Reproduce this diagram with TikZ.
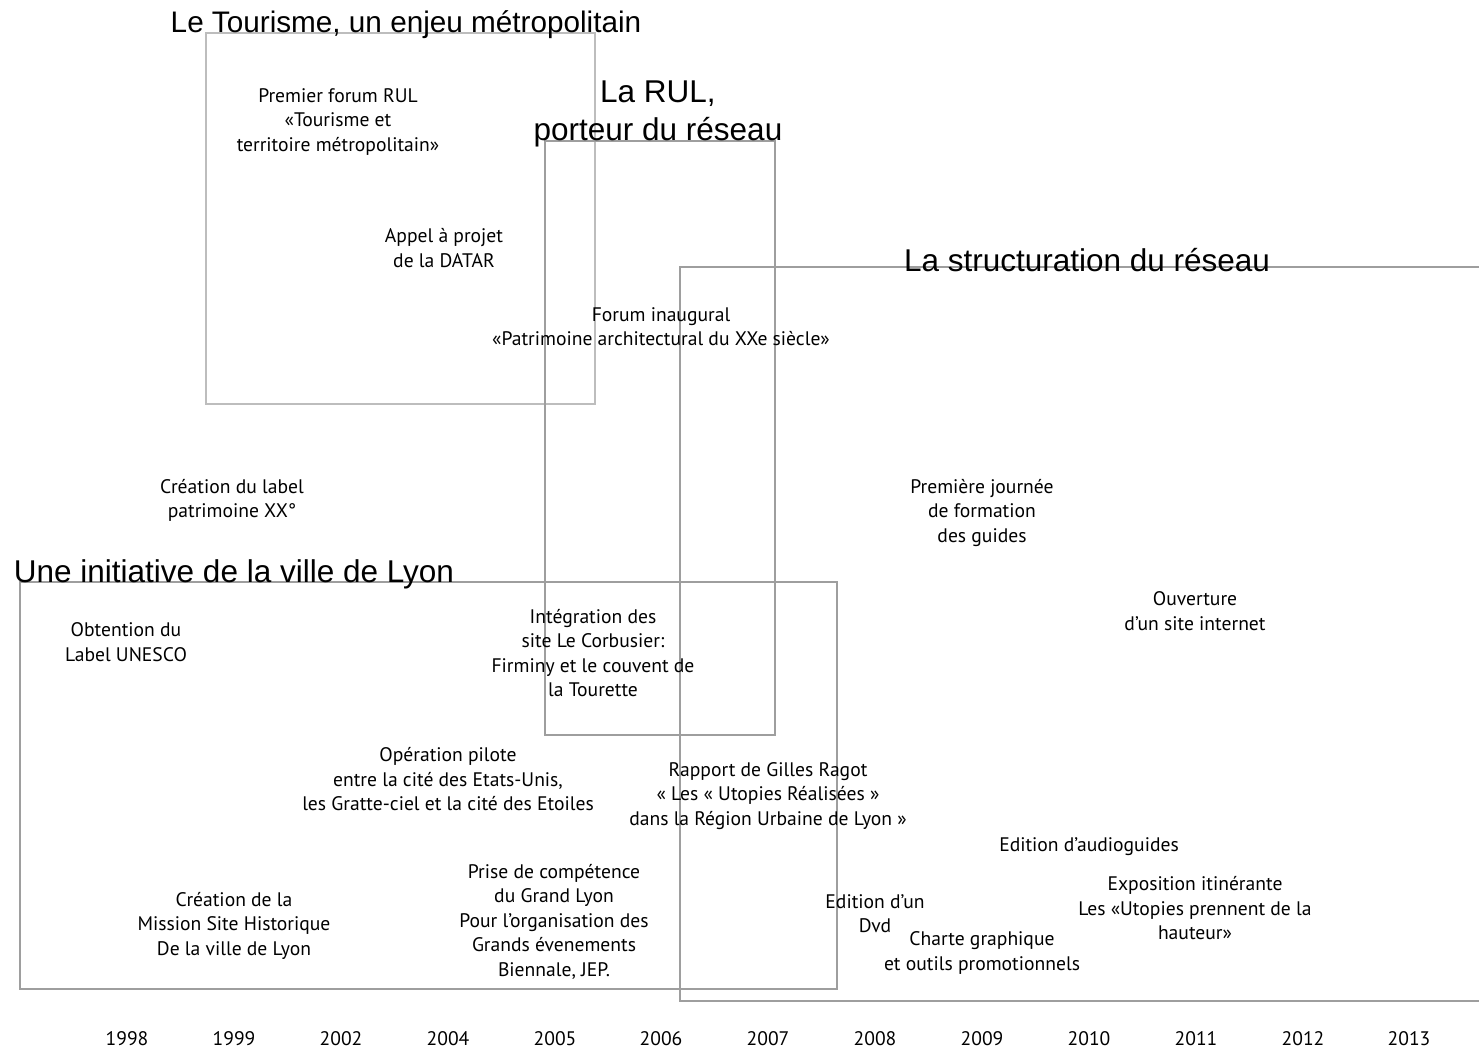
\documentclass[tikz,border=0pt]{standalone}
\usepackage{fontspec}
\setmainfont{PT Sans}
\newfontfamily\titlefont{Liberation Sans}
\begin{document}
\begin{tikzpicture}[x=1pt,y=-1pt,
  frame/.style={draw=black!38,line width=1.8pt},
  lightframe/.style={draw=black!26,line width=1.8pt},
  txt/.style={inner sep=0pt,align=center,yshift=-2pt,font=\fontsize{19.6}{24.5}\selectfont},
  ttl/.style={inner sep=0pt,align=center,yshift=-3pt,font=\titlefont\fontsize{31.5}{38}\selectfont},
  ttls/.style={ttl,font=\titlefont\fontsize{29.7}{36}\selectfont},
  yr/.style={inner sep=0pt,font=\fontsize{19.6}{22}\selectfont}]
\useasboundingbox[fill=white] (0,0) rectangle (1479,1050);
% boxes
\draw[lightframe] (206,33) rectangle (595,404);
\draw[frame] (545,141) rectangle (775,735);
\draw[frame] (1490,267) -- (680,267) -- (680,1001) -- (1490,1001);
\draw[frame] (20,582) rectangle (837,989);
% titles
\node[ttls] (t1) at (406,22) {Le Tourisme, un enjeu métropolitain};
\node[ttl] (t2) at (658,111) {La RUL,\\porteur du réseau};
\node[ttl] (t3) at (1087,257) {La structuration du réseau};
\node[ttl] (t4) at (234,571) {Une initiative de la ville de Lyon};
% events
\node[txt] (e1) at (338,120) {Premier forum RUL\\«Tourisme et\\territoire métropolitain»};
\node[txt] (e2) at (444,246) {Appel à projet\\de la DATAR};
\node[txt] (e3) at (661,324.5) {Forum inaugural\\«Patrimoine architectural du XXe siècle»};
\node[txt] (e4) at (232,498.5) {Création du label\\patrimoine XX°};
\node[txt] (e5) at (982,511) {Première journée\\de formation\\des guides};
\node[txt] (e6) at (1195,609) {Ouverture\\d’un site internet};
\node[txt] (e7) at (126,640) {Obtention du\\Label UNESCO};
\node[txt] (e8) at (593,651) {Intégration des\\site Le Corbusier:\\Firminy et le couvent de\\la Tourette};
\node[txt] (e9) at (448,777.5) {Opération pilote\\entre la cité des Etats-Unis,\\les Gratte-ciel et la cité des Etoiles};
\node[txt] (e10) at (768,794) {Rapport de Gilles Ragot\\« Les « Utopies Réalisées »\\dans la Région Urbaine de Lyon »};
\node[txt] (e11) at (1089,845) {Edition d’audioguides};
\node[txt] (e12) at (1195,906.5) {Exposition itinérante\\Les «Utopies prennent de la\\hauteur»};
\node[txt] (e13) at (234,923.5) {Création de la\\Mission Site Historique\\De la ville de Lyon};
\node[txt] (e14) at (554,919.5) {Prise de compétence\\du Grand Lyon\\Pour l’organisation des\\Grands évenements\\Biennale, JEP.};
\node[txt] (e15) at (875,911.5) {Edition d’un\\Dvd};
\node[txt] (e16) at (982,951) {Charte graphique\\et outils promotionnels};
% years
\foreach \x/\y [count=\i] in {127/1998,234/1999,341/2002,448/2004,555/2005,661/2006,768/2007,875/2008,982/2009,1089/2010,1196/2011,1303/2012,1409/2013}
  \node[yr] (y\i) at (\x,1039) {\y};
\end{tikzpicture}
\end{document}
